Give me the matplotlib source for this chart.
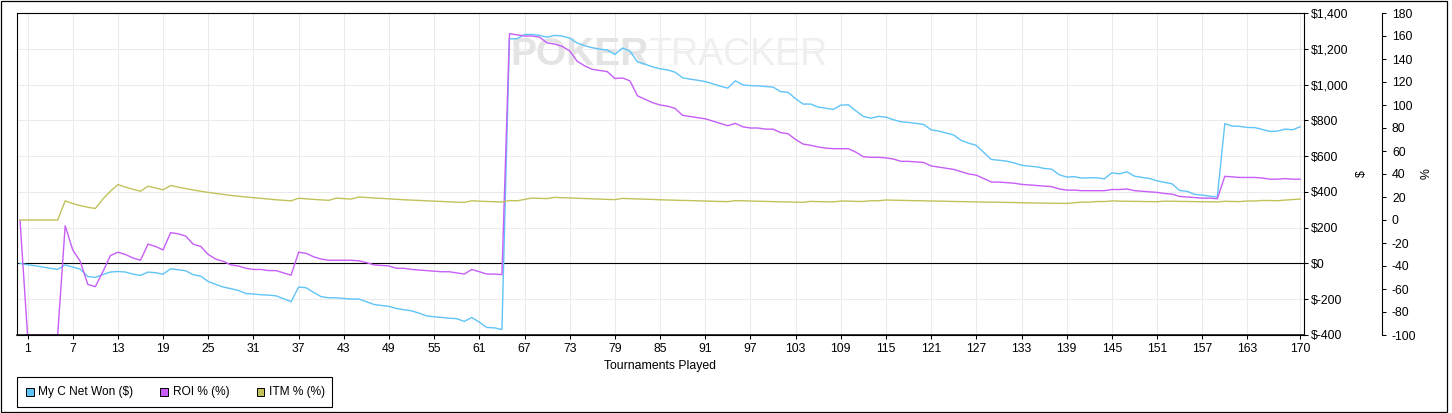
import matplotlib
matplotlib.use('Agg')
import matplotlib.pyplot as plt
from matplotlib.patches import Rectangle
from matplotlib.ticker import FuncFormatter

plt.rcParams['font.family'] = ['Liberation Sans', 'DejaVu Sans']
plt.rcParams['axes.unicode_minus'] = False

# ---------------- data ----------------
tournaments = list(range(0, 171))

net_won = [
    0, -7, -13, -20, -27, -33, -8, -20, -32, -73,
    -78, -62, -48, -45, -48, -60, -67, -48, -52, -60,
    -30, -35, -41, -63, -71, -101, -117, -132, -141, -151,
    -168, -171, -175, -177, -181, -197, -214, -132, -136, -162,
    -186, -192, -192, -196, -199, -199, -214, -229, -235, -240,
    -252, -259, -265, -278, -293, -298, -302, -306, -309, -324,
    -302, -328, -358, -360, -369, 1256, 1256, 1280, 1280, 1275,
    1265, 1275, 1271, 1260, 1232, 1217, 1206, 1198, 1193, 1168,
    1204, 1187, 1127, 1114, 1099, 1088, 1082, 1069, 1038, 1030,
    1024, 1017, 1004, 991, 980, 1021, 998, 994, 993, 989,
    986, 961, 956, 921, 891, 891, 874, 868, 861, 885,
    887, 853, 822, 812, 822, 818, 803, 792, 788, 783,
    777, 747, 740, 729, 718, 687, 672, 660, 620, 581,
    577, 572, 562, 549, 544, 540, 531, 527, 496, 483,
    485, 477, 479, 479, 473, 507, 501, 512, 488, 481,
    475, 462, 453, 445, 408, 403, 386, 382, 376, 371,
    781, 768, 766, 760, 759, 749, 738, 740, 751, 747,
    764,
]

roi = [
    0, -100, -100, -100, -100, -100, -5, -26, -36, -56,
    -58, -45, -31, -28, -30, -33, -35, -21, -23, -26,
    -11, -12, -14, -21, -23, -30, -34, -36, -39, -40,
    -42, -43, -43, -44, -44, -46, -48, -28, -29, -32,
    -34, -35, -35, -35, -35, -35.5, -37, -39, -39.5, -40,
    -42, -42, -43, -43.5, -44, -44.5, -45, -45, -46, -47,
    -43, -45, -47, -47, -47.5, 162, 161, 160, 160, 159,
    154, 153, 151, 147, 138, 134, 131, 130, 129, 123,
    123.5, 121, 108, 105, 102, 100, 99, 97, 91, 90,
    89, 88, 86, 84, 82, 84, 81, 80, 80, 79,
    79, 76, 75, 70, 66, 65, 63.5, 62.5, 62, 62,
    62, 59, 55, 54.5, 54.5, 54, 53, 51, 51, 50.5,
    50, 47, 46, 45, 44, 42, 40, 39, 36, 33,
    33, 32.5, 32, 31, 30.5, 30, 29.5, 29, 27, 26,
    26, 25.5, 25.5, 25.5, 25.5, 26.5, 26.5, 27, 25.5, 25,
    24.5, 24, 23, 22.5, 20.5, 20, 19.5, 19, 19, 18.5,
    38, 37.5, 37, 37, 37, 36.5, 35.5, 35.5, 36, 35.5,
    35.5,
]

itm = [
    0, 0, 0, 0, 0, 0, 16.7, 14.3, 12.5, 11.1,
    10.0, 18.2, 25.0, 30.8, 28.6, 26.7, 25.0, 29.4, 27.8, 26.3,
    30.0, 28.6, 27.3, 26.1, 25.0, 24.0, 23.1, 22.2, 21.4, 20.7,
    20.0, 19.4, 18.8, 18.2, 17.6, 17.1, 16.7, 18.9, 18.4, 17.9,
    17.5, 17.1, 19.0, 18.6, 18.2, 20.0, 19.6, 19.1, 18.8, 18.4,
    18.0, 17.6, 17.3, 17.0, 16.7, 16.4, 16.1, 15.8, 15.5, 15.3,
    16.7, 16.4, 16.1, 15.9, 15.6, 16.9, 16.7, 17.9, 19.1, 18.8,
    18.6, 19.7, 19.4, 19.2, 18.9, 18.7, 18.4, 18.2, 17.9, 17.7,
    18.8, 18.5, 18.3, 18.1, 17.9, 17.6, 17.4, 17.2, 17.0, 16.9,
    16.7, 16.5, 16.3, 16.1, 16.0, 16.8, 16.7, 16.5, 16.3, 16.2,
    16.0, 15.8, 15.7, 15.5, 15.4, 16.2, 16.0, 15.9, 15.7, 16.5,
    16.4, 16.2, 16.1, 16.8, 16.7, 17.4, 17.2, 17.1, 16.9, 16.8,
    16.7, 16.5, 16.4, 16.3, 16.1, 16.0, 15.9, 15.7, 15.6, 15.5,
    15.4, 15.3, 15.2, 15.0, 14.9, 14.8, 14.7, 14.6, 14.5, 14.4,
    15.0, 15.6, 15.5, 16.1, 16.0, 16.6, 16.4, 16.3, 16.2, 16.1,
    16.0, 15.9, 16.4, 16.3, 16.2, 16.1, 16.0, 15.9, 15.8, 15.7,
    16.3, 16.1, 16.0, 16.6, 16.5, 17.0, 16.9, 16.8, 17.3, 17.8,
    18.2,
]

x_ticks = [1, 7, 13, 19, 25, 31, 37, 43, 49, 55, 61, 67, 73, 79, 85, 91, 97,
           103, 109, 115, 121, 127, 133, 139, 145, 151, 157, 163, 170]
usd_ticks = list(range(-400, 1401, 200))
pct_ticks = list(range(-100, 181, 20))

series_names = ['My C Net Won ($)', 'ROI % (%)', 'ITM % (%)']
BLUE = '#5fc4f8'
PURPLE = '#c65ef7'
OLIVE = '#c2c25c'

# ---------------- figure ----------------
W, H = 1452, 413
fig = plt.figure(figsize=(W / 100, H / 100), dpi=100)


def fx(px):
    return px / W


def fy(py):
    return 1 - py / H


L, R, T, B = 17, 1303.5, 13, 335
ax = fig.add_axes([fx(L), fy(B), fx(R) - fx(L), fy(T) - fy(B)])
ax.plot(tournaments, net_won, color=BLUE, lw=1.0, zorder=2)

ax2 = ax.twinx()
ax2.plot(tournaments, roi, color=PURPLE, lw=1.0)
ax2.plot(tournaments, itm, color=OLIVE, lw=1.0)
ax2.set_ylim(-100, 180)
ax2.set_yticks(pct_ticks)
ax2.spines['right'].set_position(('outward', (1382 - R) * 0.72))
ax2.spines['right'].set_linewidth(0.8)
for s in ['left', 'top']:
    ax2.spines[s].set_visible(False)
ax2.spines['bottom'].set_linewidth(1.1)
ax2.spines['bottom'].set_color('black')
ax2.tick_params(axis='y', direction='out', length=3.2, width=0.75,
                colors='black', labelsize=8.8, pad=4)
ax2.tick_params(axis='x', bottom=False, labelbottom=False)

ax.set_xlim(-0.4, 170.45)
ax.set_ylim(-400, 1400)
ax.set_xticks(x_ticks)
ax.set_yticks(usd_ticks)
ax.yaxis.tick_right()
ax.yaxis.set_major_formatter(FuncFormatter(lambda v, p: f"${int(v):,}"))
ax.tick_params(axis='both', direction='out', length=3.2, width=0.75,
               colors='black', labelsize=8.8)
ax.tick_params(axis='y', pad=2.4, left=False, labelleft=False,
               right=True, labelright=True)
ax.tick_params(axis='x', pad=2.6, top=False)
ax.grid(True, color='#ebebeb', lw=0.75)
ax.set_axisbelow(True)
for s in ax.spines.values():
    s.set_linewidth(0.8)
    s.set_color('black')
ax.axhline(0, color='black', lw=0.8, zorder=1.5)

# watermark
ax.text(fx(510), fy(65), 'POKER', transform=fig.transFigure, fontsize=28,
        fontweight='bold', color='#e4e4e4', ha='left', va='baseline', zorder=0.7)
ax.text(fx(648), fy(65), 'TRACKER', transform=fig.transFigure, fontsize=27,
        color='#efefef', ha='left', va='baseline', zorder=0.7)

# axis titles
fig.text(fx(660), fy(366), 'Tournaments Played', ha='center', va='center',
         fontsize=8.8)
fig.text(fx(1362), fy(174), '$', ha='center', va='center', rotation=90,
         fontsize=8.8)
fig.text(fx(1427), fy(174), '%', ha='center', va='center', rotation=90,
         fontsize=8.8)

# legend
fig.add_artist(Rectangle((fx(16.7), fy(407.3)), fx(332) - fx(16.7),
                         fy(376.7) - fy(407.3), transform=fig.transFigure,
                         facecolor='white', edgecolor='black', lw=0.8))
leg_items = [(26, 38.3, BLUE), (160, 172.7, PURPLE), (256.7, 269.3, OLIVE)]
for (mx, tx, col), name in zip(leg_items, series_names):
    fig.add_artist(Rectangle((fx(mx), fy(395.5)), 7.5 / W, 8 / H,
                             transform=fig.transFigure, facecolor=col,
                             edgecolor='black', lw=0.7))
    fig.text(fx(tx), fy(391.5), name, ha='left', va='center', fontsize=8.6)

# outer border
fig.add_artist(Rectangle((fx(0.5), fy(411.5)), (1447 - 0.5) / W, (411.5 - 1) / H,
                         transform=fig.transFigure, fill=False,
                         edgecolor='black', lw=0.9))

fig.savefig('out.png', dpi=100)
